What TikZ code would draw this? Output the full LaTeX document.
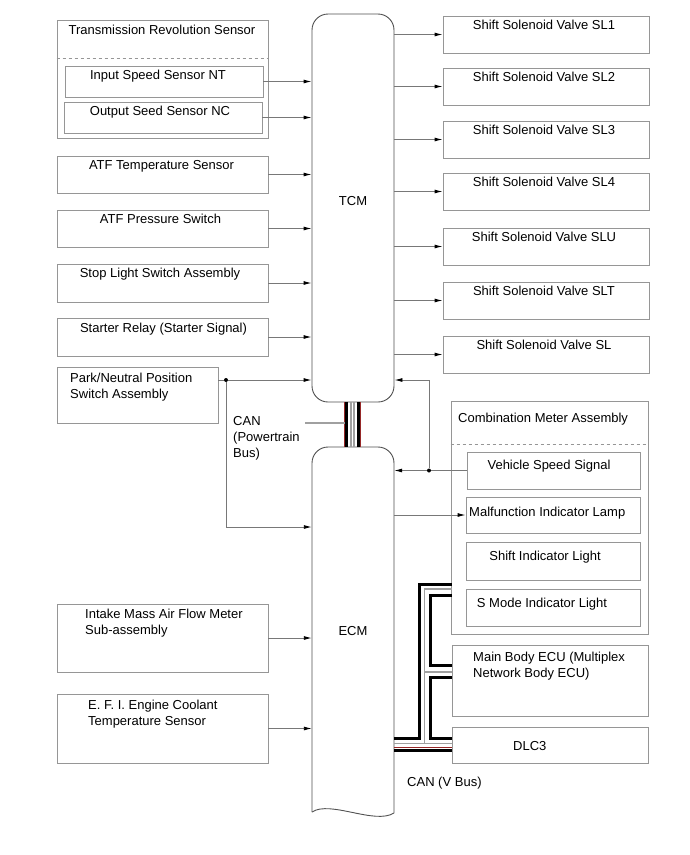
\documentclass[tikz,border=0pt]{standalone}
\usepackage{fontspec}
\setmainfont{Liberation Sans}
\usetikzlibrary{arrows.meta,calc}
\definecolor{bxc}{RGB}{150,150,150}
\definecolor{lnc}{RGB}{120,120,120}
\definecolor{ecuc}{RGB}{80,80,80}
\definecolor{redl}{RGB}{150,40,40}
\definecolor{busg}{RGB}{160,160,160}
\begin{document}
\begin{tikzpicture}[x=1pt,y=-1pt,font=\fontsize{13}{16}\selectfont,
  bx/.style={draw=bxc,line width=0.9pt,inner sep=0pt,fill=white},
  tx/.style={anchor=base,inner sep=0pt},
  txl/.style={anchor=base west,inner sep=0pt},
  arr/.style={draw=lnc,line width=0.9pt,-{Latex[length=8pt,width=4pt,color=black]}},
  sig/.style={draw=lnc,line width=0.9pt},
  blk/.style={draw=black,line width=3pt},
  rdl/.style={draw=redl,line width=0.5pt},
  gry/.style={draw=busg,line width=1.4pt},
  dot/.style={circle,fill=black,inner sep=0pt,minimum size=4pt}]
\useasboundingbox (0,0) rectangle (690,855);

% ---------- TCM and ECM ----------
\node[draw=ecuc,line width=0.9pt,rounded corners=16pt,minimum width=82pt,minimum height=388pt,inner sep=0pt] (tcm) at (353,208) {};
\node[tx] (tcmt) at (353,205) {TCM};
\node[minimum width=82pt,minimum height=366pt,inner sep=0pt] (ecm) at (353,630) {};
\draw[ecuc,line width=0.9pt,rounded corners=16pt] (312,812) -- (312,447) -- (394,447) -- (394,813);
\draw[ecuc,line width=0.9pt] (312,812) .. controls (330,800) and (375,825) .. (394,813);
\node[tx] (ecmt) at (353,635) {ECM};

% ---------- left inputs ----------
\node[bx,minimum width=211pt,minimum height=118pt] (trs) at (162.5,79) {};
\draw[bxc,dashed,line width=0.8pt] ($(trs.north west)+(0,39)$) -- ($(trs.north east)+(0,39)$);
\node[tx] (trst) at (162,34) {Transmission Revolution Sensor};
\node[bx,minimum width=198pt,minimum height=31pt] (nt) at (164,81.5) {};
\node[tx] (ntt) at (158,79) {Input Speed Sensor NT};
\node[bx,minimum width=198pt,minimum height=31pt] (nc) at (163,117.5) {};
\node[tx] (nct) at (160,115) {Output Seed Sensor NC};

\node[bx,minimum width=211pt,minimum height=37pt] (atft) at (162.5,174.5) {};
\node[tx] (atftt) at (161.5,169) {ATF Temperature Sensor};
\node[bx,minimum width=211pt,minimum height=37pt] (atfp) at (162.5,228.5) {};
\node[tx] (atfpt) at (160.5,223) {ATF Pressure Switch};
\node[bx,minimum width=211pt,minimum height=38pt] (stop) at (162.5,283) {};
\node[tx] (stopt) at (160,277.5) {Stop Light Switch Assembly};
\node[bx,minimum width=211pt,minimum height=38pt] (start) at (162.5,337) {};
\node[tx] (startt) at (163.5,332.5) {Starter Relay (Starter Signal)};
\node[bx,minimum width=161pt,minimum height=56pt] (pnp) at (137.5,395) {};
\node[txl] (pnpt1) at (70,382) {Park/Neutral Position};
\node[txl] (pnpt2) at (70,398) {Switch Assembly};

\node[bx,minimum width=211pt,minimum height=68pt] (maf) at (162.5,638) {};
\node[txl] (maft1) at (85,618) {Intake Mass Air Flow Meter};
\node[txl] (maft2) at (85,634) {Sub-assembly};
\node[bx,minimum width=211pt,minimum height=69pt] (efi) at (162.5,728.5) {};
\node[txl] (efit1) at (88,709) {E. F. I. Engine Coolant};
\node[txl] (efit2) at (88,725) {Temperature Sensor};

\foreach \n in {nt,nc,atft,atfp,stop,start}
  \draw[arr] (\n.east) -- (\n.east -| tcm.west);
\foreach \n in {maf,efi}
  \draw[arr] (\n.east) -- (\n.east -| ecm.west);

% park / neutral
\node[dot] (pj) at (226,380) {};
\coordinate (pe) at (226,527);
\draw[sig] (pnp.east |- pj) -- (pj);
\draw[arr] (pj) -- (pj -| tcm.west);
\draw[arr] (pj) -- (pe) -- (pe -| ecm.west);

% ---------- right outputs ----------
\foreach \n/\y/\t in {sl1/34.5/SL1,sl2/86.5/SL2,sl3/139.5/SL3,sl4/191.5/SL4,slu/246.5/SLU,slt/300.5/SLT,sl/354.5/SL}{
  \node[bx,minimum width=206pt,minimum height=37pt] (\n) at (546,\y) {};
  \node[tx] (\n t) at ($(\n.north)+(-2,13.5)$) {Shift Solenoid Valve \t};
  \draw[arr] (\n.west -| tcm.east) -- (\n.west);
}

% ---------- combination meter ----------
\node[bx,minimum width=197pt,minimum height=233pt] (cma) at (549.5,517.5) {};
\draw[bxc,dashed,line width=0.8pt] ($(cma.north west)+(0,44)$) -- ($(cma.north east)+(0,44)$);
\node[txl] (cmat) at (458,422) {Combination Meter Assembly};
\node[bx,minimum width=173pt,minimum height=37pt] (vss) at (553.5,470.5) {};
\node[tx] (vsst) at (549,469) {Vehicle Speed Signal};
\node[bx,minimum width=174pt,minimum height=36pt] (mil) at (553,515) {};
\node[txl] (milt) at (469,516) {Malfunction Indicator Lamp};
\node[bx,minimum width=174pt,minimum height=38pt] (sil) at (553,561) {};
\node[tx] (silt) at (545,560) {Shift Indicator Light};
\node[bx,minimum width=174pt,minimum height=37pt] (smil) at (553,607.5) {};
\node[tx] (smilt) at (542,607) {S Mode Indicator Light};

\node[bx,minimum width=196pt,minimum height=71pt] (mbe) at (550,680.5) {};
\node[txl] (mbet1) at (473,661) {Main Body ECU (Multiplex};
\node[txl] (mbet2) at (473,677) {Network Body ECU)};
\node[bx,minimum width=196pt,minimum height=36pt] (dlc) at (550,745) {};
\node[txl] (dlct) at (513,750) {DLC3};

% vehicle speed signal
\node[dot] (vj) at (429,470.5) {};
\coordinate (vt) at (429,380);
\draw[sig] (vss.west) -- (vj);
\draw[arr] (vj) -- (vj -| ecm.east);
\draw[arr] (vj) -- (vt) -- (vt -| tcm.east);
% MIL
\draw[arr] (mil.west -| ecm.east) -- (mil.west);

% ---------- CAN powertrain bus ----------
\draw[rdl] ([xshift=-8.3pt]tcm.south) -- ([xshift=-8.3pt]ecm.north);
\draw[rdl] ([xshift=7.5pt]tcm.south) -- ([xshift=7.5pt]ecm.north);
\draw[black,line width=3.2pt] ([xshift=-6.3pt]tcm.south) -- ([xshift=-6.3pt]ecm.north);
\draw[busg,line width=1.5pt] ([xshift=-2pt]tcm.south) -- ([xshift=-2pt]ecm.north);
\draw[busg,line width=1.5pt] ([xshift=1pt]tcm.south) -- ([xshift=1pt]ecm.north);
\draw[black,line width=3.2pt] ([xshift=5.3pt]tcm.south) -- ([xshift=5.3pt]ecm.north);
\coordinate (canl) at (305,423);
\draw[busg,line width=1.4pt] (canl) -- ([xshift=-8pt]tcm.south |- canl);
\node[txl] (cant1) at (233,425) {CAN};
\node[txl] (cant2) at (233,441) {(Powertrain};
\node[txl] (cant3) at (233,457) {Bus)};

% ---------- CAN V bus ----------
\coordinate (a1) at (394,738.5); \coordinate (a2) at (419.5,738.5);
\coordinate (a3) at (419.5,584);  \coordinate (a4) at (452,584);
\draw[rdl,xshift=-2pt,yshift=-2pt] (a1) -- (a2) -- (a3) -- (a4);
\draw[blk] (a1) -- (a2) -- (a3) -- (a4);
\coordinate (b1) at (394,743.5); \coordinate (b2) at (452,743.5);
\coordinate (b3) at (424.5,743.5); \coordinate (b4) at (424.5,589);
\coordinate (b5) at (452,589); \coordinate (b6) at (424.5,672); \coordinate (b7) at (452,672);
\draw[gry] (b1) -- (b2);
\draw[gry] (b3) -- (b4) -- (b5);
\draw[gry] (b6) -- (b7);
\coordinate (c1) at (452,595); \coordinate (c2) at (430.5,595);
\coordinate (c3) at (430.5,665.5); \coordinate (c4) at (452,665.5);
\draw[rdl,xshift=2pt,yshift=-2pt] (c1) -- (c2) -- (c3) -- (c4);
\draw[blk] (c1) -- (c2) -- (c3) -- (c4);
\coordinate (d1) at (452,677); \coordinate (d2) at (430.5,677);
\coordinate (d3) at (430.5,738); \coordinate (d4) at (452,738);
\draw[rdl,xshift=2pt,yshift=-2.5pt] (d1) -- (d2) -- (d3) -- (d4);
\draw[blk] (d1) -- (d2) -- (d3) -- (d4);
\coordinate (e1) at (394,750); \coordinate (e2) at (452,750);
\draw[rdl] ([yshift=3pt]e1) -- ([yshift=3pt]e2);
\draw[blk] (e1) -- (e2);
\node[txl] (canv) at (407,786) {CAN (V Bus)};
\end{tikzpicture}
\end{document}
